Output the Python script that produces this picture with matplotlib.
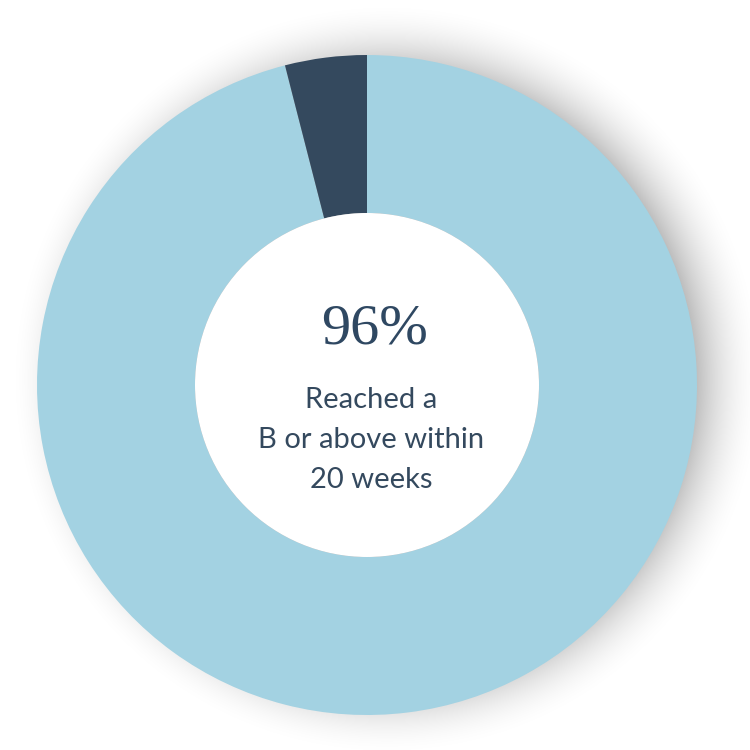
import matplotlib
matplotlib.use("Agg")
import matplotlib.pyplot as plt
import numpy as np
from matplotlib.patches import Circle

labels = ["Reached B or above", "Other"]
values = [96, 4]
colors = ["#a3d2e2", "#34495e"]
big_text = "96%"
sub_text = "Reached a\nB or above within\n20 weeks"

fig = plt.figure(figsize=(7.5, 7.5), dpi=100)
ax = fig.add_axes([0, 0, 1, 1])

cx, cy, R, r_in = 367, 365, 330, 172

# soft shadow (decorative)
yy, xx = np.mgrid[0:750, 0:750] + 0.5
sx, sy = cx + 20, cy + 6
d = np.hypot(xx - sx, yy - sy)
a = 0.33 * np.clip(1 - (d - (R - 30)) / 80.0, 0, 1) ** 2
a[d < R - 30] = 0.33
shadow = np.zeros((750, 750, 4))
shadow[..., 3] = a
ax.imshow(shadow, extent=(0, 750, 0, 750), origin="lower", zorder=1, interpolation="bilinear")

ax.pie(values, colors=colors, startangle=90, counterclock=False,
       center=(cx, cy), radius=R, wedgeprops=dict(width=R - r_in, linewidth=0),
       frame=True)
for w in ax.patches:
    w.set_zorder(3)
ax.add_patch(Circle((cx, cy), r_in, color="white", lw=0, zorder=4))
ax.set_xlim(0, 750)
ax.set_ylim(0, 750)
ax.set_aspect("equal")
ax.axis("off")

ax.text(cx + 8, 750 - 330, big_text, ha="center", va="center", fontsize=42,
        family="Liberation Serif", color="#2f4862", zorder=5)
ax.text(cx + 4, 750 - 440, sub_text, ha="center", va="center", fontsize=21,
        family="Lato", color="#34495e", linespacing=1.66, zorder=5)

fig.savefig("out.png", dpi=100)
